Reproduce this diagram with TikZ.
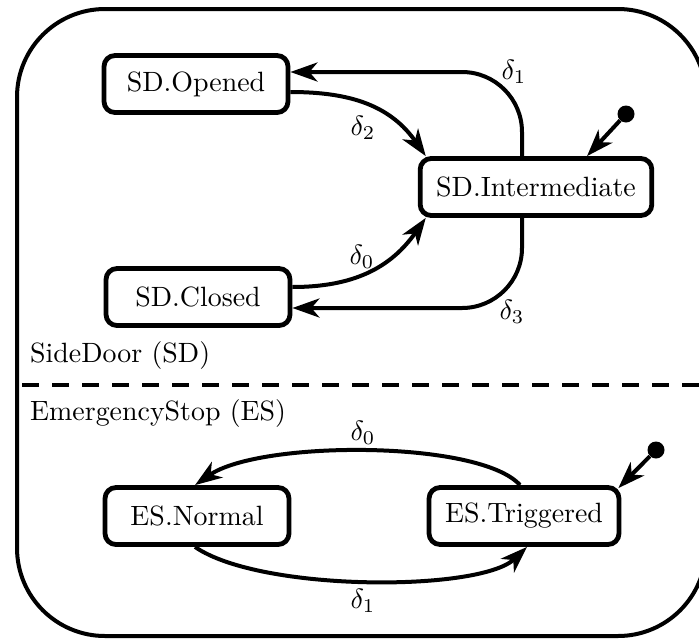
\documentclass[tikz,border=0pt]{standalone}
\usetikzlibrary{arrows.meta}
\newcommand{\stxt}[1]{\scalebox{2.79}{\fontsize{10}{12}\selectfont #1}}
\newcommand{\dlt}[1]{\scalebox{2.79}{\fontsize{10}{12}\selectfont$\delta_{#1}$}}
\begin{document}
\begin{tikzpicture}[x=1pt,y=-1pt,
  state/.style={draw, line width=4.8pt, rounded corners=11pt, minimum width=184pt,
    minimum height=57pt, inner xsep=16pt, inner ysep=0pt},
  trans/.style={line width=4pt, -{Stealth[length=27pt,width=19pt,inset=8pt]}},
  lbl/.style={inner sep=0pt},
  dot/.style={circle, fill, inner sep=0pt, minimum size=17pt}]
\useasboundingbox (0,0) rectangle (699,638);
\draw[line width=4pt, rounded corners=88pt] (17,9) rectangle (706,636);
\draw[line width=4pt, dash pattern=on 17pt off 13pt] (22,385) -- (699,385);

% states
\node[state] (so) at (196,84) {\stxt{SD.Opened}};
\node[state] (si) at (536,187) {\stxt{SD.Intermediate}};
\node[state] (sc) at (198,297) {\stxt{SD.Closed}};
\node[state] (en) at (197,516) {\stxt{ES.Normal}};
\node[state] (et) at (524,516) {\stxt{ES.Triggered}};

% initial markers
\node[dot] (i1) at (626,114) {};
\node[dot] (i2) at (656,450) {};
\draw[trans] (i1) -- ([xshift=51pt]si.north);
\draw[trans] (i2) -- ([xshift=-3pt,yshift=-3pt]et.north east);

% region labels
\node[lbl, anchor=west] (lsd) at (30,356) {\stxt{SideDoor (SD)}};
\node[lbl, anchor=west] (les) at (30,414) {\stxt{EmergencyStop (ES)}};

% SideDoor transitions
\draw[trans, rounded corners=60pt] ([xshift=-14pt]si.north) |- ([yshift=12pt]so.east);
\draw[trans] ([yshift=-8pt]so.east) .. controls +(61,0) and +(-35,-50) .. ([xshift=8pt]si.north west);
\draw[trans] ([yshift=10pt]sc.east) .. controls +(61,0) and +(-35,50) .. ([xshift=8pt]si.south west);
\draw[trans, rounded corners=60pt] ([xshift=-14pt]si.south) |- ([yshift=-11pt]sc.east);

\node[lbl] (d1) at (514,72) {\dlt{1}};
\node[lbl] (d2) at (363,128) {\dlt{2}};
\node[lbl] (d0) at (362,257) {\dlt{0}};
\node[lbl] (d3) at (512,312) {\dlt{3}};

% EmergencyStop transitions
\draw[trans] ([xshift=-4pt]et.north) .. controls (480,440) and (260,440) .. ([xshift=-2pt]en.north);
\draw[trans] ([xshift=-2pt]en.south) .. controls (260,592) and (480,592) .. ([xshift=3pt]et.south);

\node[lbl] (e0) at (363,433) {\dlt{0}};
\node[lbl] (e1) at (363,601) {\dlt{1}};
\end{tikzpicture}
\end{document}
